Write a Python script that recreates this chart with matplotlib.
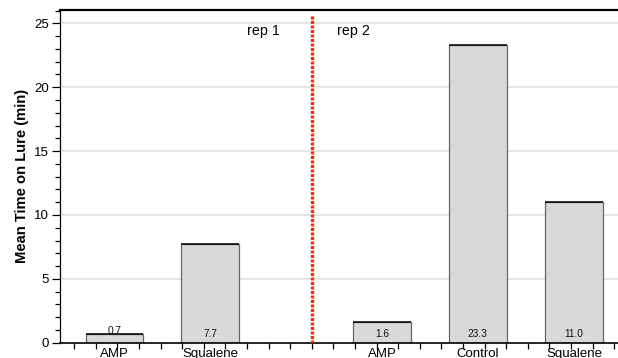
import matplotlib
matplotlib.use("Agg")
import matplotlib.pyplot as plt
from matplotlib.ticker import MultipleLocator, FixedLocator, FixedFormatter

plt.rcParams['font.family'] = ['Liberation Sans', 'DejaVu Sans']

categories = ["AMP", "Squalene", "AMP", "Control", "Squalene"]
values = [0.7, 7.7, 1.6, 23.3, 11.0]
value_labels = ["0.7", "7.7", "1.6", "23.3", "11.0"]
rep_labels = ["rep 1", "rep 2"]
y_ticks = [0, 5, 10, 15, 20, 25]

# layout (x in minor-tick units)
x_pos = [1.86, 6.29, 14.25, 18.69, 23.14]
bar_w = 2.66
sep_x = 11.0

fig = plt.figure(figsize=(6.18, 3.58), dpi=100)
ax = fig.add_axes([60/618, 15.3/358, 1 - 60/618, (358 - 15.3 - 10)/358])

ax.set_xlim(-0.662, 25.18)
ax.set_ylim(0, 26.05)

# grid
for yv in y_ticks[1:]:
    ax.axhline(yv, color='#e6e6e6', lw=1.4, zorder=0)

ax.bar(x_pos, values, width=bar_w, color='#d9d9d9', edgecolor='#666666',
       linewidth=0.9, zorder=2)
ax.hlines(values, [x - bar_w/2 for x in x_pos], [x + bar_w/2 for x in x_pos],
          color='black', lw=1.1, zorder=3)

for x, v, lab in zip(x_pos, values, value_labels):
    ty = v if v < 1 else 0.43
    ax.text(x, ty, lab, ha='center', va='baseline', fontsize=7.3,
            color='#111111', zorder=4)

# separator
ax.vlines(sep_x, 0, 25.68, color='#ff2a00', lw=2.4, linestyles=(0, (0.9, 0.45)), zorder=3)

ax.text(9.53, 24.37, rep_labels[0], ha='right', va='center', fontsize=10.3)
ax.text(12.17, 24.37, rep_labels[1], ha='left', va='center', fontsize=10.3)

# spines
ax.spines['right'].set_visible(False)
ax.spines['top'].set_linewidth(1.6)
ax.spines['left'].set_linewidth(0.9)
ax.spines['bottom'].set_linewidth(1.2)

# y ticks
ax.yaxis.set_major_locator(FixedLocator(y_ticks))
ax.yaxis.set_minor_locator(MultipleLocator(1))
ax.tick_params(axis='y', which='major', length=6, width=0.9, labelsize=9.5, direction='out', pad=2)
ax.tick_params(axis='y', which='minor', length=3.5, width=0.9, direction='out')

# x ticks
ax.xaxis.set_major_locator(FixedLocator(x_pos))
ax.xaxis.set_major_formatter(FixedFormatter(categories))
ax.xaxis.set_minor_locator(MultipleLocator(1))
ax.tick_params(axis='x', which='major', length=0, labelsize=9.5, pad=4)
ax.tick_params(axis='x', which='minor', length=4.5, width=0.9, direction='out')

ax.set_ylabel("Mean Time on Lure (min)", fontsize=10.6, fontweight='bold')
ax.yaxis.set_label_coords(-0.056, 0.5)

fig.savefig("out.png", dpi=100)
